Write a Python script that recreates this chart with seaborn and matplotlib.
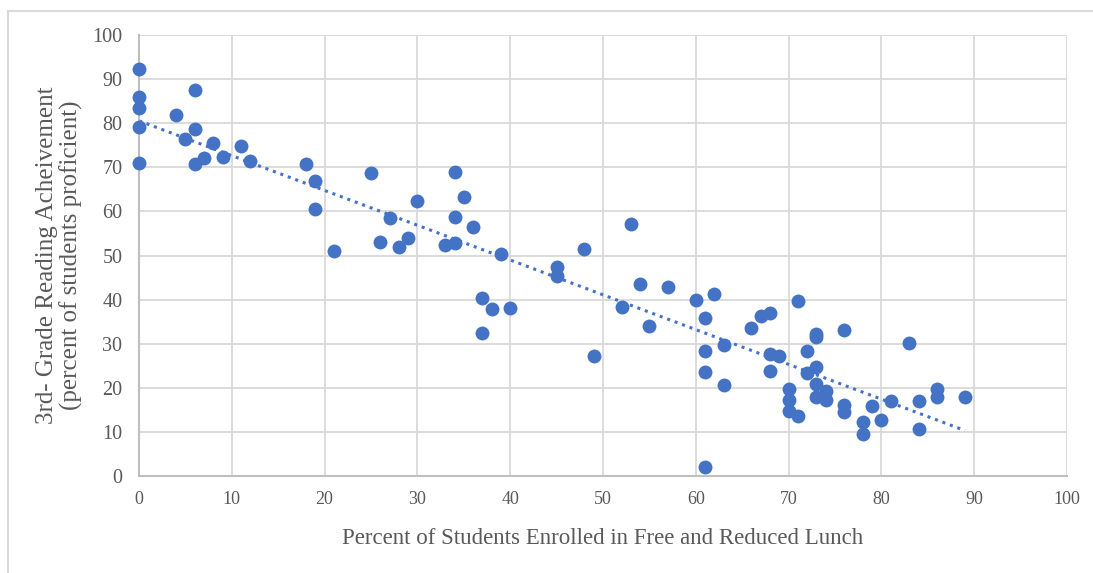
import matplotlib
matplotlib.use('Agg')
import matplotlib.pyplot as plt
import seaborn as sns
import pandas as pd
from matplotlib.patches import Rectangle

# Free/reduced lunch % vs 3rd grade reading proficiency %
lunch_pct = [0, 0, 0, 0, 0, 4, 5, 6, 6, 6, 7, 8, 9, 11, 12,
             18, 19, 19, 21, 25, 26, 27, 28, 29, 30, 33, 34, 34, 34, 35,
             36, 37, 37, 38, 39, 40, 45, 45, 48, 49, 52, 53, 54, 55, 57,
             60, 61, 61, 61, 61, 62, 63, 63, 66, 67, 68, 68, 68, 69, 70,
             70, 70, 71, 71, 72, 72, 73, 73, 73, 73, 73, 74, 74, 76, 76,
             76, 78, 78, 79, 80, 81, 83, 84, 84, 86, 86, 89]
reading_pct = [92.3, 85.9, 83.5, 79.2, 70.9, 81.9, 76.5, 87.5, 78.7, 70.7, 72.2, 75.6, 72.3, 74.8, 71.4,
               70.7, 66.8, 60.5, 51.0, 68.6, 53.0, 58.5, 52.0, 53.9, 62.4, 52.4, 69.0, 58.8, 52.8, 63.2,
               56.4, 40.4, 32.4, 37.9, 50.3, 38.2, 47.5, 45.4, 51.5, 27.3, 38.4, 57.1, 43.5, 34.0, 42.8,
               39.9, 35.8, 28.4, 23.6, 2.0, 41.3, 29.6, 20.6, 33.6, 36.3, 36.9, 27.7, 23.9, 27.2, 19.7,
               17.2, 14.7, 39.7, 13.5, 28.4, 23.4, 32.2, 31.6, 24.8, 20.9, 17.8, 19.3, 17.3, 33.0, 16.2,
               14.6, 12.2, 9.5, 15.9, 12.7, 17.0, 30.2, 17.0, 10.7, 19.7, 17.8, 18.0]

x_ticks = list(range(0, 101, 10))
y_ticks = list(range(0, 101, 10))

df = pd.DataFrame({'lunch': lunch_pct, 'reading': reading_pct})

blue = '#4472C4'
grey_text = '#595959'

sns.set_style('white')
plt.rcParams['font.family'] = ['Liberation Serif', 'DejaVu Serif']

fig = plt.figure(figsize=(10.93, 5.73), dpi=100)
ax = fig.add_axes([0.1272, 0.1693, 0.849, 0.7696])

sns.regplot(x='lunch', y='reading', data=df, scatter=False, ci=None, ax=ax,
            line_kws=dict(color=blue, linestyle=(0, (1, 1.6)), linewidth=2.2))
sns.scatterplot(x='lunch', y='reading', data=df, ax=ax, color=blue, s=100,
                edgecolor=blue, linewidth=0, zorder=3, clip_on=False)

ax.set_xlim(0, 100)
ax.set_ylim(0, 100)
ax.set_xticks(x_ticks)
ax.set_yticks(y_ticks)
ax.grid(True, color='#d9d9d9', linewidth=1.3)
ax.set_axisbelow(True)
for side in ['top', 'right']:
    ax.spines[side].set_visible(False)
for side in ['left', 'bottom']:
    ax.spines[side].set_color('#bfbfbf')
    ax.spines[side].set_linewidth(1.5)
ax.tick_params(axis='both', length=0, colors=grey_text)
ax.tick_params(axis='y', labelsize=14.5, pad=12)
ax.tick_params(axis='x', labelsize=13, pad=11)

ax.set_xlabel('Percent of Students Enrolled in Free and Reduced Lunch',
              fontsize=16.5, color=grey_text, labelpad=14)
ax.set_ylabel('3rd- Grade Reading Acheivement\n(percent of students proficient)',
              fontsize=18, color=grey_text, labelpad=7, linespacing=1.05)

# chart frame
fig.patches.append(Rectangle((8 / 1093, -0.05), 1.2, (573 - 11) / 573 + 0.05,
                             transform=fig.transFigure, fill=False,
                             edgecolor='#d9d9d9', linewidth=1.5))

plt.savefig('out.png', dpi=100)
